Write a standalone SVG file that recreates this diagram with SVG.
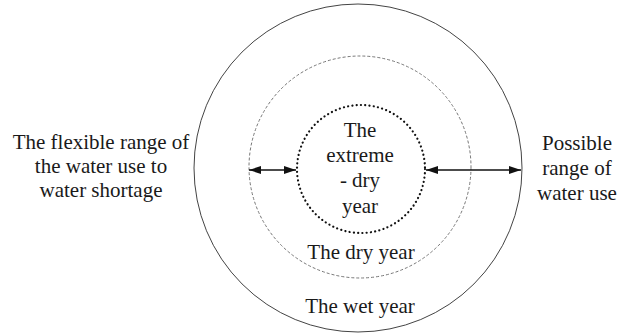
<svg xmlns="http://www.w3.org/2000/svg" width="624" height="335" viewBox="0 0 624 335">
<defs>
<marker id="ah" viewBox="0 0 12 8" refX="12" refY="4" markerWidth="12" markerHeight="8" markerUnits="userSpaceOnUse" orient="auto-start-reverse">
<path d="M0,0 L12,4 L0,8 Z" fill="#111"/>
</marker>
</defs>
<g id="wet-year">
<circle cx="358" cy="168" r="164" fill="none" stroke="#444" stroke-width="1"/>
<text x="360" y="313" font-family="Times New Roman, Liberation Serif, serif" font-size="21" fill="#1a1a1a" text-anchor="middle">The wet year</text>
</g>
<g id="dry-year">
<circle cx="360" cy="167" r="111" fill="none" stroke="#777" stroke-width="1" stroke-dasharray="3 2"/>
<text x="361" y="259" font-family="Times New Roman, Liberation Serif, serif" font-size="21" fill="#1a1a1a" text-anchor="middle">The dry year</text>
</g>
<g id="extreme-dry-year">
<circle cx="361" cy="169" r="64" fill="none" stroke="#111" stroke-width="2.2" stroke-dasharray="0.1 4.2" stroke-linecap="round"/>
<text x="360" y="137" font-family="Times New Roman, Liberation Serif, serif" font-size="21" fill="#1a1a1a" text-anchor="middle">The</text>
<text x="360" y="162" font-family="Times New Roman, Liberation Serif, serif" font-size="21" fill="#1a1a1a" text-anchor="middle">extreme</text>
<text x="360" y="187" font-family="Times New Roman, Liberation Serif, serif" font-size="21" fill="#1a1a1a" text-anchor="middle">- dry</text>
<text x="360" y="213" font-family="Times New Roman, Liberation Serif, serif" font-size="21" fill="#1a1a1a" text-anchor="middle">year</text>
</g>
<g id="flexible-range">
<text x="101" y="149" font-family="Times New Roman, Liberation Serif, serif" font-size="21" fill="#1a1a1a" text-anchor="middle">The flexible range of</text>
<text x="101" y="173" font-family="Times New Roman, Liberation Serif, serif" font-size="21" fill="#1a1a1a" text-anchor="middle">the water use to</text>
<text x="101" y="197" font-family="Times New Roman, Liberation Serif, serif" font-size="21" fill="#1a1a1a" text-anchor="middle">water shortage</text>
</g>
<g id="possible-range">
<text x="577" y="150" font-family="Times New Roman, Liberation Serif, serif" font-size="21" fill="#1a1a1a" text-anchor="middle">Possible</text>
<text x="577" y="175" font-family="Times New Roman, Liberation Serif, serif" font-size="21" fill="#1a1a1a" text-anchor="middle">range of</text>
<text x="577" y="200" font-family="Times New Roman, Liberation Serif, serif" font-size="21" fill="#1a1a1a" text-anchor="middle">water use</text>
</g>
<g id="connectors" stroke="#111" stroke-width="1.5" fill="none" marker-start="url(#ah)" marker-end="url(#ah)">
<line x1="249" y1="170" x2="296" y2="170"/>
<line x1="426" y1="170" x2="521" y2="170"/>
</g>
</svg>
